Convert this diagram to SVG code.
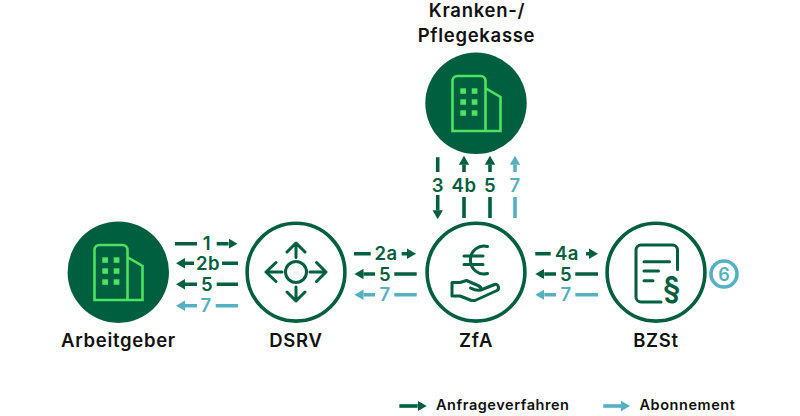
<svg xmlns="http://www.w3.org/2000/svg" xmlns:xlink="http://www.w3.org/1999/xlink" width="800" height="416" viewBox="0 0 800 416">
<style>
text{font-family:"Inter","Liberation Sans",sans-serif;font-weight:600;text-anchor:middle}
.name{font-size:18.500px;fill:#111;letter-spacing:.7px}
.lg{font-size:14.500px;fill:#111;text-anchor:start;letter-spacing:.55px}
.n{font-size:18.500px;fill:#005f3f;letter-spacing:.5px}
.t{fill:#55b1c1}
.c{fill:none;stroke-width:3.6}
.g{stroke:#005f3f}
.b{stroke:#55b1c1}
.ico{fill:none;stroke:#005f3f;stroke-width:3;stroke-linejoin:round;stroke-linecap:round}
.ring{fill:#fff;stroke:#005f3f;stroke-width:3.6}
.bld{fill:none;stroke:#4be35f;stroke-width:2.6;stroke-linejoin:miter}
.win{fill:#4be35f}
</style>
<defs>
<marker id="ag" markerUnits="userSpaceOnUse" markerWidth="10" markerHeight="12" refX="0" refY="6" orient="auto"><path d="M0 .8L9 6L0 11.200Z" fill="#005f3f"/></marker>
<marker id="ab" markerUnits="userSpaceOnUse" markerWidth="10" markerHeight="12" refX="0" refY="6" orient="auto"><path d="M0 .8L9 6L0 11.200Z" fill="#55b1c1"/></marker>
<g id="building">
<path class="bld" d="M94.500 300V250a5 5 0 0 1 5-5H122.500a5 5 0 0 1 5 5V300ZM128 257.500L142.500 266V300H127.500"/>
<rect class="win" x="102.300" y="257.300" width="5.700" height="5.500"/><rect class="win" x="113.700" y="257.300" width="5.700" height="5.500"/>
<rect class="win" x="102.300" y="268.300" width="5.700" height="5.500"/><rect class="win" x="113.700" y="268.300" width="5.700" height="5.500"/>
<rect class="win" x="102.300" y="279.300" width="5.700" height="5.500"/><rect class="win" x="113.700" y="279.300" width="5.700" height="5.500"/>
</g>
</defs>

<g id="connectors">
<path class="c g" d="M175 243.700H197M216.700 243.700H228.500" marker-end="url(#ag)"/>
<path class="c g" d="M238 263.300H222M194 263.300H185" marker-end="url(#ag)"/>
<path class="c g" d="M238 284.300H216.700M197 284.300H185" marker-end="url(#ag)"/>
<path class="c b" d="M238 305.700H215.700M197 305.700H185" marker-end="url(#ab)"/>
<path class="c g" d="M354 253.700H370.700M401.700 253.700H407" marker-end="url(#ag)"/>
<path class="c g" d="M416.700 274H394.300M375 274H363.500" marker-end="url(#ag)"/>
<path class="c b" d="M416.700 294.700H394.300M375 294.700H363.500" marker-end="url(#ab)"/>
<path class="c g" d="M535.300 253.700H550.700M586 253.700H589" marker-end="url(#ag)"/>
<path class="c g" d="M598 274H575.300M556 274H544.300" marker-end="url(#ag)"/>
<path class="c b" d="M598 294.700H575.300M556 294.700H544.300" marker-end="url(#ab)"/>
<path class="c g" d="M437.700 157.300V172M437.700 195V210.300" marker-end="url(#ag)"/>
<path class="c g" d="M464 218V197M464 172V164.700" marker-end="url(#ag)"/>
<path class="c g" d="M490 218V197M490 172V164.700" marker-end="url(#ag)"/>
<path class="c b" d="M515 218V197M515 172V164.700" marker-end="url(#ab)"/>
<path class="c g" d="M399.300 406H417.700" marker-end="url(#ag)"/>
<path class="c b" d="M603.300 406H621" marker-end="url(#ab)"/>
</g>

<g id="edge-labels">
<text class="n" x="207" y="250">1</text>
<text class="n" x="208" y="270">2b</text>
<text class="n" x="207" y="291">5</text>
<text class="n t" x="206" y="312">7</text>
<text class="n" x="386" y="260">2a</text>
<text class="n" x="385" y="280.500">5</text>
<text class="n t" x="385" y="301">7</text>
<text class="n" x="567" y="260">4a</text>
<text class="n" x="566" y="280.500">5</text>
<text class="n t" x="566" y="301">7</text>
<text class="n" x="438" y="191.500">3</text>
<text class="n" x="464" y="191.500">4b</text>
<text class="n" x="490" y="191.500">5</text>
<text class="n t" x="515" y="191.500">7</text>
</g>

<g id="kasse">
<circle cx="476" cy="103.300" r="50.700" fill="#005f3f"/>
<use xlink:href="#building" href="#building" transform="translate(358 -169)"/>
<text class="name" x="477" y="17">Kranken-/</text>
<text class="name" x="476.500" y="42">Pflegekasse</text>
</g>

<g id="arbeitgeber">
<circle cx="118.300" cy="272.200" r="50.700" fill="#005f3f"/>
<use xlink:href="#building" href="#building"/>
<text class="name" x="118.500" y="347">Arbeitgeber</text>
</g>

<g id="dsrv">
<circle class="ring" cx="296" cy="272.200" r="48.900"/>
<circle class="ico" cx="296" cy="272" r="10.500"/>
<path class="ico" d="M296 243V257.500M287 252L296 243L305 252M296 287V301M287 292L296 301L305 292M266 272H282M276 262.500L266 272L276 281.500M310 272H326M316.500 262.500L326 272L316.500 281.500"/>
<text class="name" x="296" y="347">DSRV</text>
</g>

<g id="zfa">
<circle class="ring" cx="476" cy="272.200" r="48.900"/>
<path class="ico" d="M487.500 246.500A13.500 14 0 1 0 487.500 273.500M464 256H483M464 264.500H483"/>
<path class="ico" d="M452 282.500V296H460L471.500 300.500H475L497 290.500C500 288.500 498 283 494.500 284.500L481 290C481.500 287.500 480.500 286.500 478 285.500L466.500 280.500L460 282.500ZM481 290C477 291 474 290 470.500 288"/>
<text class="name" x="476" y="347">ZfA</text>
</g>

<g id="bzst">
<circle class="ring" cx="656" cy="272.200" r="48.900"/>
<path class="ico" d="M677.500 269.500V250a5 5 0 0 0-5-5H641a5 5 0 0 0-5 5V297a5 5 0 0 0 5 5H661"/>
<path class="ico" d="M644 261.700H669.500M644 271H658.500M644 280.700H653"/>
<text x="671.700" y="299" style="font-size:31px;font-weight:600;fill:#005f3f">§</text>
<text class="name" x="656" y="347">BZSt</text>
</g>

<g id="step6">
<circle cx="724" cy="274" r="13" fill="#fff" stroke="#55b1c1" stroke-width="3.600"/>
<text x="724" y="280.500" style="font-size:18px;fill:#55b1c1">6</text>
</g>

<g id="legend">
<text class="lg" x="436" y="410">Anfrageverfahren</text>
<text class="lg" x="639.500" y="410">Abonnement</text>
</g>
</svg>
